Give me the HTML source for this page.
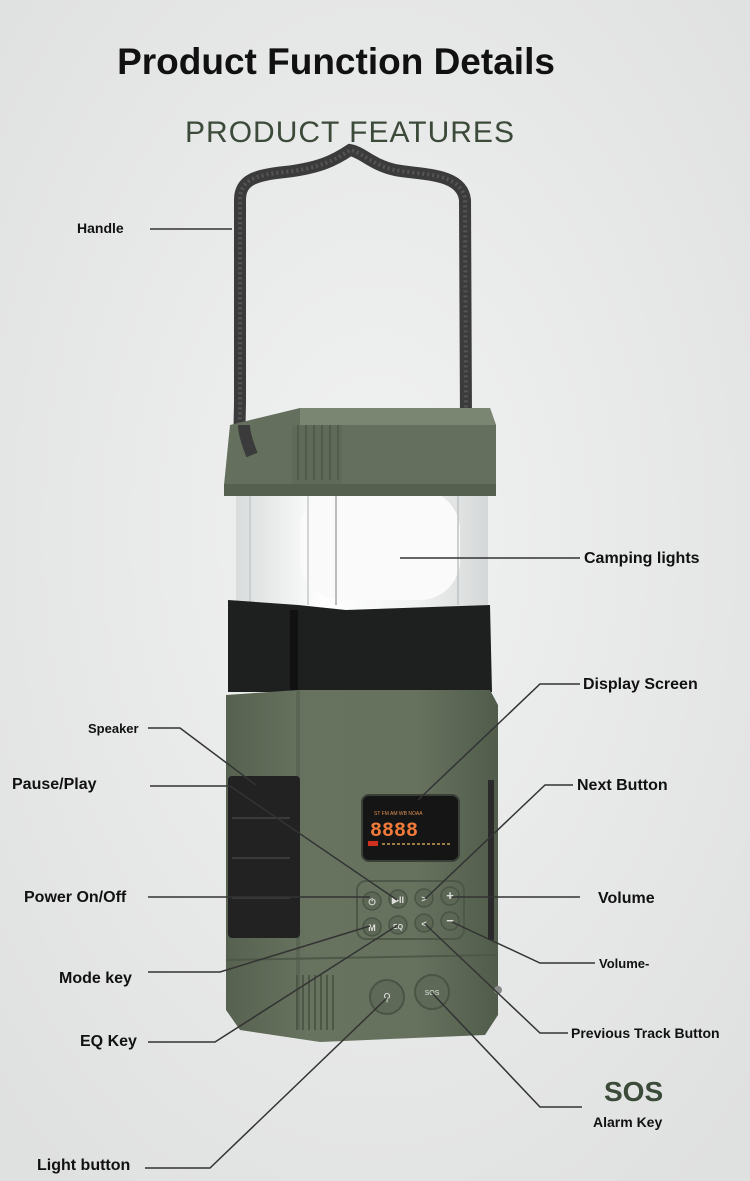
<!DOCTYPE html>
<html><head><meta charset="utf-8"><style>
html,body{margin:0;padding:0;}
body{width:750px;height:1181px;overflow:hidden;background:#e8e9e9;font-family:"Liberation Sans",sans-serif;}
svg{display:block}
</style></head><body>
<svg width="750" height="1181" viewBox="0 0 750 1181" xmlns="http://www.w3.org/2000/svg">
<defs>
<radialGradient id="bg" cx="50%" cy="45%" r="70%"><stop offset="0" stop-color="#f1f2f2"/><stop offset="1" stop-color="#dfe0e0"/></radialGradient>
<linearGradient id="glass" x1="0" x2="1"><stop offset="0" stop-color="#d9dcdc"/><stop offset="0.35" stop-color="#ffffff"/><stop offset="0.7" stop-color="#f2f3f3"/><stop offset="1" stop-color="#d5d8d8"/></linearGradient>
<linearGradient id="body" x1="0" x2="1"><stop offset="0" stop-color="#56614f"/><stop offset="0.3" stop-color="#67735f"/><stop offset="0.7" stop-color="#66725e"/><stop offset="1" stop-color="#515c4b"/></linearGradient>
</defs>
<rect width="750" height="1181" fill="url(#bg)"/>
<text x="336" y="74" text-anchor="middle" font-size="37" font-weight="bold" fill="#111">Product Function Details</text>
<text x="350" y="142" text-anchor="middle" font-size="30" fill="#3c4a3a" letter-spacing="1">PRODUCT  FEATURES</text>

<!-- handle -->
<path d="M252,455 C236,445 240,430 240,400 L240,200 C240,180 255,175 285,172 C320,168 335,160 350,150 C362,152 372,165 395,170 C420,175 462,172 465,200 L466,420" fill="none" stroke="#3b3b3b" stroke-width="12" stroke-linecap="round"/>
<path d="M252,455 C236,445 240,430 240,400 L240,200 C240,180 255,175 285,172 C320,168 335,160 350,150 C362,152 372,165 395,170 C420,175 462,172 465,200 L466,420" fill="none" stroke="#555" stroke-width="4" stroke-dasharray="2 3"/>

<!-- glass -->
<rect x="236" y="490" width="252" height="120" fill="url(#glass)"/>
<rect x="300" y="490" width="160" height="110" rx="40" fill="#fafafa"/>
<line x1="336" y1="490" x2="336" y2="605" stroke="#b9bcbc" stroke-width="2"/>
<line x1="308" y1="490" x2="308" y2="605" stroke="#c6c9c9" stroke-width="1.5"/>
<line x1="458" y1="490" x2="458" y2="605" stroke="#c0c3c3" stroke-width="1.5"/>
<line x1="250" y1="490" x2="250" y2="605" stroke="#c6c9c9" stroke-width="1.5"/>

<!-- top cap -->
<polygon points="230,425 300,408 490,408 496,425 496,485 485,496 230,496 224,485" fill="#646f5d"/>
<polygon points="300,408 490,408 496,425 300,425" fill="#7a8672"/>
<rect x="292" y="425" width="50" height="68" fill="#5f6a58"/>
<g stroke="#4d5747" stroke-width="1.5"><line x1="298" y1="425" x2="298" y2="480"/><line x1="306" y1="425" x2="306" y2="480"/><line x1="314" y1="425" x2="314" y2="480"/><line x1="322" y1="425" x2="322" y2="480"/><line x1="330" y1="425" x2="330" y2="480"/><line x1="338" y1="425" x2="338" y2="480"/></g>
<rect x="224" y="484" width="272" height="12" fill="#55604f"/>
<path d="M252,455 C246,440 244,430 244,425" fill="none" stroke="#3b3b3b" stroke-width="12"/>

<!-- black section -->
<polygon points="228,600 298,605 346,610 490,605 492,692 228,692" fill="#1e1f1f"/>
<rect x="290" y="610" width="8" height="82" fill="#111"/>

<!-- body -->
<polygon points="226,695 298,690 490,690 498,705 498,1015 485,1035 320,1042 240,1030 226,1010" fill="url(#body)"/>
<rect x="296" y="690" width="4" height="340" fill="#5a6553"/>
<line x1="226" y1="960" x2="498" y2="955" stroke="#4d5848" stroke-width="2"/>
<!-- speaker grille -->
<rect x="228" y="776" width="72" height="162" rx="4" fill="#222"/>
<g stroke="#3a3a3a" stroke-width="2"><line x1="232" y1="818" x2="290" y2="818"/><line x1="232" y1="858" x2="290" y2="858"/><line x1="232" y1="898" x2="290" y2="898"/></g>
<rect x="488" y="780" width="6" height="160" fill="#2a2a2a"/>
<g stroke="#4c5746" stroke-width="2"><line x1="297" y1="975" x2="297" y2="1030"/><line x1="303" y1="975" x2="303" y2="1030"/><line x1="309" y1="975" x2="309" y2="1030"/><line x1="315" y1="975" x2="315" y2="1030"/><line x1="321" y1="975" x2="321" y2="1030"/><line x1="327" y1="975" x2="327" y2="1030"/><line x1="333" y1="975" x2="333" y2="1030"/></g>
<!-- display -->
<rect x="362" y="795" width="97" height="66" rx="7" fill="#151515" stroke="#3a3f38" stroke-width="2"/>
<text x="370" y="836" font-size="20" font-family="Liberation Mono,monospace" font-weight="bold" fill="#f07a3a">8888</text>
<text x="374" y="815" font-size="5" fill="#e09050">ST  FM  AM  WB  NOAA</text>
<rect x="368" y="841" width="10" height="5" fill="#d03020"/>
<line x1="382" y1="844" x2="452" y2="844" stroke="#c8a050" stroke-width="1.5" stroke-dasharray="3 2"/>
<!-- buttons panel -->
<rect x="357" y="881" width="107" height="58" rx="9" fill="none" stroke="#4e5849" stroke-width="2"/>
<g fill="#5c6756" stroke="#4a5445" stroke-width="1.5">
<circle cx="372" cy="901" r="9"/><circle cx="398" cy="899" r="9"/><circle cx="424" cy="898" r="9"/><circle cx="450" cy="896" r="9"/>
<circle cx="372" cy="927" r="9"/><circle cx="398" cy="925" r="9"/><circle cx="424" cy="923" r="9"/><circle cx="450" cy="921" r="9"/>
</g>
<g fill="#dde0da" font-size="9" text-anchor="middle" font-weight="bold">
<text x="372" y="905">⏻</text><text x="398" y="903">▶II</text><text x="424" y="902">&gt;</text><text x="450" y="900" font-size="13">+</text>
<text x="372" y="931">M</text><text x="398" y="929" font-size="7">EQ</text><text x="424" y="927">&lt;</text><text x="450" y="925" font-size="13">−</text>
</g>
<circle cx="387" cy="997" r="17" fill="#5e6958" stroke="#4a5445" stroke-width="2"/>
<circle cx="432" cy="992" r="17" fill="#5e6958" stroke="#4a5445" stroke-width="2"/>
<text x="387" y="1001" font-size="11" text-anchor="middle" fill="#dde0da">⚲</text>
<text x="432" y="995" font-size="7" text-anchor="middle" fill="#dde0da">SOS</text>
<circle cx="498" cy="990" r="4" fill="#888"/>

<!-- leader lines -->
<g fill="none" stroke="#333" stroke-width="1.5">
<polyline points="150,229 232,229"/>
<polyline points="400,558 580,558"/>
<polyline points="580,684 540,684 418,800"/>
<polyline points="148,728 180,728 256,785"/>
<polyline points="150,786 230,786 397,900"/>
<polyline points="573,785 545,785 425,899"/>
<polyline points="148,897 370,897"/>
<polyline points="452,897 580,897"/>
<polyline points="452,922 540,963 595,963"/>
<polyline points="148,972 220,972 370,926"/>
<polyline points="425,924 540,1033 568,1033"/>
<polyline points="148,1042 215,1042 398,925"/>
<polyline points="432,993 540,1107 582,1107"/>
<polyline points="145,1168 210,1168 387,998"/>
</g>
<!-- labels -->
<g fill="#111" font-weight="bold">
<text x="77" y="233" font-size="14">Handle</text>
<text x="584" y="563" font-size="16">Camping lights</text>
<text x="583" y="689" font-size="16">Display Screen</text>
<text x="88" y="733" font-size="13">Speaker</text>
<text x="12" y="789" font-size="16">Pause/Play</text>
<text x="577" y="790" font-size="16">Next Button</text>
<text x="24" y="902" font-size="16">Power On/Off</text>
<text x="598" y="903" font-size="16">Volume</text>
<text x="599" y="968" font-size="13">Volume-</text>
<text x="59" y="983" font-size="16">Mode key</text>
<text x="571" y="1038" font-size="14">Previous Track Button</text>
<text x="80" y="1046" font-size="16">EQ Key</text>
<text x="604" y="1101" font-size="28" fill="#3c4a3a">SOS</text>
<text x="593" y="1127" font-size="14">Alarm Key</text>
<text x="37" y="1170" font-size="16">Light button</text>
</g>
</svg>
</body></html>
